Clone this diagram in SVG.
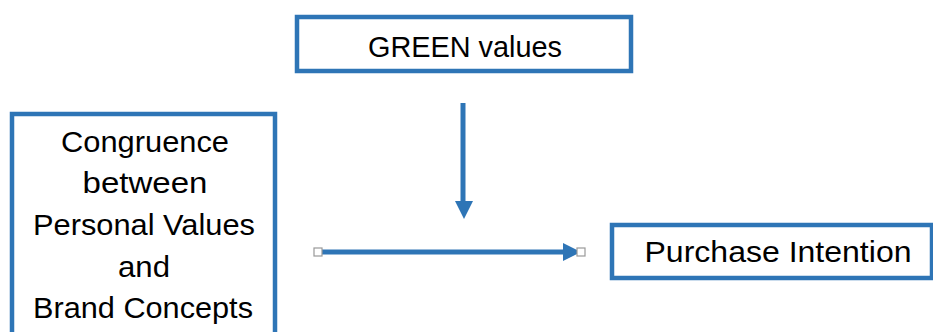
<svg xmlns="http://www.w3.org/2000/svg" width="933" height="332" viewBox="0 0 933 332">
<style>
.box{fill:#fff;stroke:#2E75B6;stroke-width:4.5}
.t{font-family:"Liberation Sans",Arial,sans-serif;font-size:30px;fill:#000;text-anchor:middle}
.c{stroke:#2E75B6;stroke-width:5;fill:none}
.h{fill:#fff;stroke:#999;stroke-width:1.2}
</style>
<defs>
<marker id="ah" markerUnits="userSpaceOnUse" markerWidth="20" markerHeight="20" refX="17" refY="9" orient="auto" viewBox="0 0 20 18">
<path d="M0,0 L17,9 L0,18 z" fill="#2E75B6"/>
</marker>
</defs>
<rect width="933" height="332" fill="#fff"/>
<g id="green">
<rect class="box" x="297" y="17" width="334" height="54"/>
<text class="t" x="465" y="57" textLength="194" lengthAdjust="spacingAndGlyphs">GREEN values</text>
</g>
<g id="congruence">
<rect class="box" x="12" y="114" width="263" height="240"/>
<text class="t" x="145" y="152" textLength="168" lengthAdjust="spacingAndGlyphs">Congruence</text>
<text class="t" x="145" y="193" textLength="125" lengthAdjust="spacingAndGlyphs">between</text>
<text class="t" x="144" y="235" textLength="222" lengthAdjust="spacingAndGlyphs">Personal Values</text>
<text class="t" x="144" y="277" textLength="52" lengthAdjust="spacingAndGlyphs">and</text>
<text class="t" x="143" y="318" textLength="220" lengthAdjust="spacingAndGlyphs">Brand Concepts</text>
</g>
<g id="purchase">
<rect class="box" x="612" y="225" width="320" height="53"/>
<text class="t" x="778" y="262" textLength="267" lengthAdjust="spacingAndGlyphs">Purchase Intention</text>
</g>
<g id="connectors">
<line class="c" x1="463" y1="103" x2="463" y2="201"/>
<path d="M455,201 L473,201 L464,219 z" fill="#2E75B6"/>
<line class="c" x1="318" y1="252" x2="564" y2="252"/>
<path d="M563,243 L581,252 L563,261 z" fill="#2E75B6"/>
<rect class="h" x="314" y="248" width="8" height="8"/>
<rect class="h" x="577" y="248" width="8" height="8"/>
</g>
</svg>
